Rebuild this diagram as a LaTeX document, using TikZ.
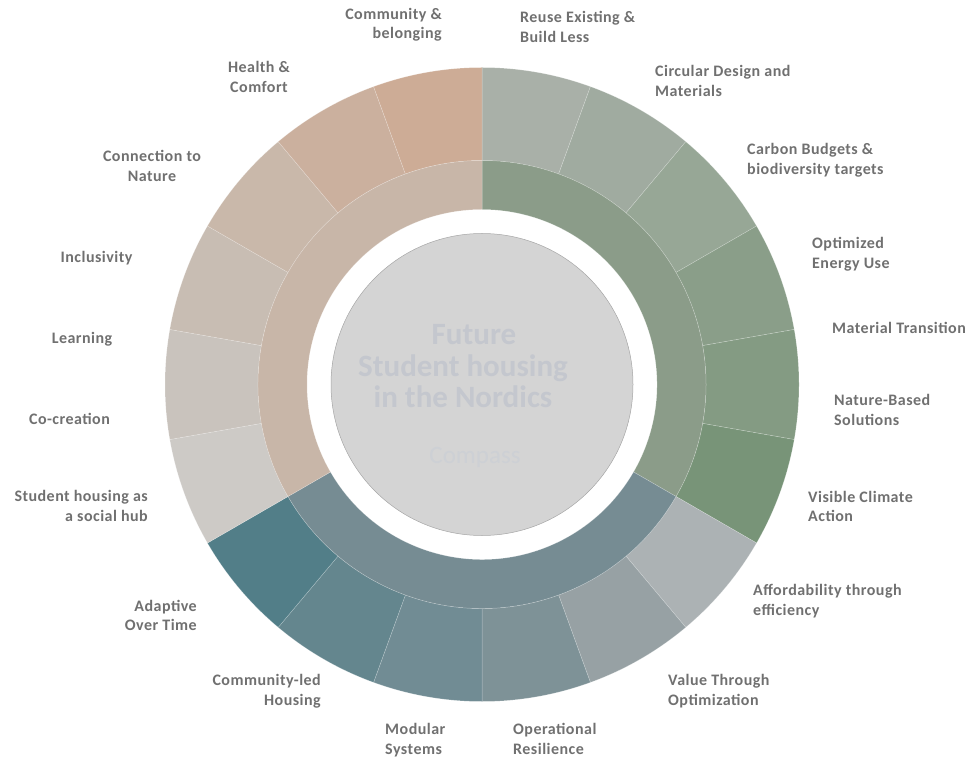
\documentclass[tikz,border=0pt]{standalone}
\usepackage{fontspec}
\setmainfont{Carlito}
\newfontfamily\labfont[LetterSpace=3]{Carlito}
\definecolor{lab}{HTML}{707070}
\definecolor{ttl}{HTML}{C4C7CE}
\definecolor{cmp}{HTML}{CDD0D5}
\definecolor{core}{HTML}{D4D4D4}
\definecolor{ig}{HTML}{8B9C89}
\definecolor{ib}{HTML}{768C93}
\definecolor{io}{HTML}{C8B6A8}
\definecolor{g1}{HTML}{A9B0A8}
\definecolor{g2}{HTML}{A0ABA0}
\definecolor{g3}{HTML}{97A796}
\definecolor{g4}{HTML}{8A9E89}
\definecolor{g5}{HTML}{849B83}
\definecolor{g6}{HTML}{789478}
\definecolor{b1}{HTML}{ACB2B4}
\definecolor{b2}{HTML}{97A1A4}
\definecolor{b3}{HTML}{7E9297}
\definecolor{b4}{HTML}{718C94}
\definecolor{b5}{HTML}{64868E}
\definecolor{b6}{HTML}{527E88}
\definecolor{o1}{HTML}{CDCAC6}
\definecolor{o2}{HTML}{C9C3BD}
\definecolor{o3}{HTML}{C8BDB3}
\definecolor{o4}{HTML}{C9B8AA}
\definecolor{o5}{HTML}{CBB09E}
\definecolor{o6}{HTML}{CDAC96}
\tikzset{
  seg/.style={draw=white, draw opacity=0.3, line width=0.5pt},
  lbl/.style={text=lab, inner sep=0pt, font=\labfont\bfseries\fontsize{16}{19.5}\selectfont},
  lr/.style={lbl, align=right, anchor=east},
  ll/.style={lbl, align=left, anchor=west},
  lc/.style={lbl, align=center, anchor=center}
}
\begin{document}
\begin{tikzpicture}[x=1pt,y=1pt]
\useasboundingbox (0,0) rectangle (969,761);
\begin{scope}[shift={(482,376.5)}]
  % outer ring
  \foreach \a/\c in {70/g1,50/g2,30/g3,10/g4,-10/g5,-30/g6,
                     -50/b1,-70/b2,-90/b3,-110/b4,-130/b5,-150/b6,
                     190/o1,170/o2,150/o3,130/o4,110/o5,90/o6}{
    \pgfmathsetmacro{\b}{\a+20}
    \filldraw[fill=\c, seg] (\a:224) arc[start angle=\a, end angle=\b, radius=224]
      -- (\b:317) arc[start angle=\b, end angle=\a, radius=317] -- cycle;
  }
  % inner ring
  \foreach \a/\c in {-30/ig,-150/ib,90/io}{
    \pgfmathsetmacro{\b}{\a+120}
    \filldraw[fill=\c, seg] (\a:175) arc[start angle=\a, end angle=\b, radius=175]
      -- (\b:224) arc[start angle=\b, end angle=\a, radius=224] -- cycle;
  }
  % core
  \filldraw[fill=core, draw=gray!70, line width=0.5pt] (0,0) circle[radius=151];
\end{scope}
% centre text
\node[text=ttl, align=center, font=\bfseries\fontsize{31}{31.5}\selectfont, inner sep=0pt]
  (title) at (463,394.5) {\hspace*{22pt}Future\\Student housing\\in the Nordics};
\node[text=cmp, font=\fontsize{25}{30}\selectfont, inner sep=0pt] (compass) at (475,304) {Compass};
% labels
\node[lr] (l1) at (442,736.5) {Community \&\\belonging};
\node[lc] (l2) at (259,684) {Health \&\\Comfort};
\node[lc] (l3) at (152,595) {Connection to\\Nature};
\node[lc] (l4) at (96.5,503) {Inclusivity};
\node[lc] (l5) at (82,422) {Learning};
\node[lc] (l6) at (69.5,342) {Co-creation};
\node[lr] (l7) at (148,255) {Student housing as\\a social hub};
\node[lr] (l8) at (197,145.5) {Adaptive\\Over Time};
\node[lr] (l9) at (321,70) {Community-led\\Housing};
\node[ll] (l10) at (385,21) {Modular\\Systems};
\node[ll] (l11) at (513,22) {Operational\\Resilience};
\node[ll] (l12) at (668,70) {Value Through\\Optimization};
\node[ll] (l13) at (753,160) {Affordability through\\efficiency};
\node[ll] (l14) at (808,254.5) {Visible Climate\\Action};
\node[ll] (l15) at (834,351) {Nature-Based\\Solutions};
\node[ll] (l16) at (832,433) {Material Transition};
\node[ll] (l17) at (812,507) {Optimized\\Energy Use};
\node[ll] (l18) at (747,601) {Carbon Budgets \&\\biodiversity targets};
\node[ll] (l19) at (655,680) {Circular Design and\\Materials};
\node[ll] (l20) at (520,734) {Reuse Existing \&\\Build Less};
\end{tikzpicture}
\end{document}
